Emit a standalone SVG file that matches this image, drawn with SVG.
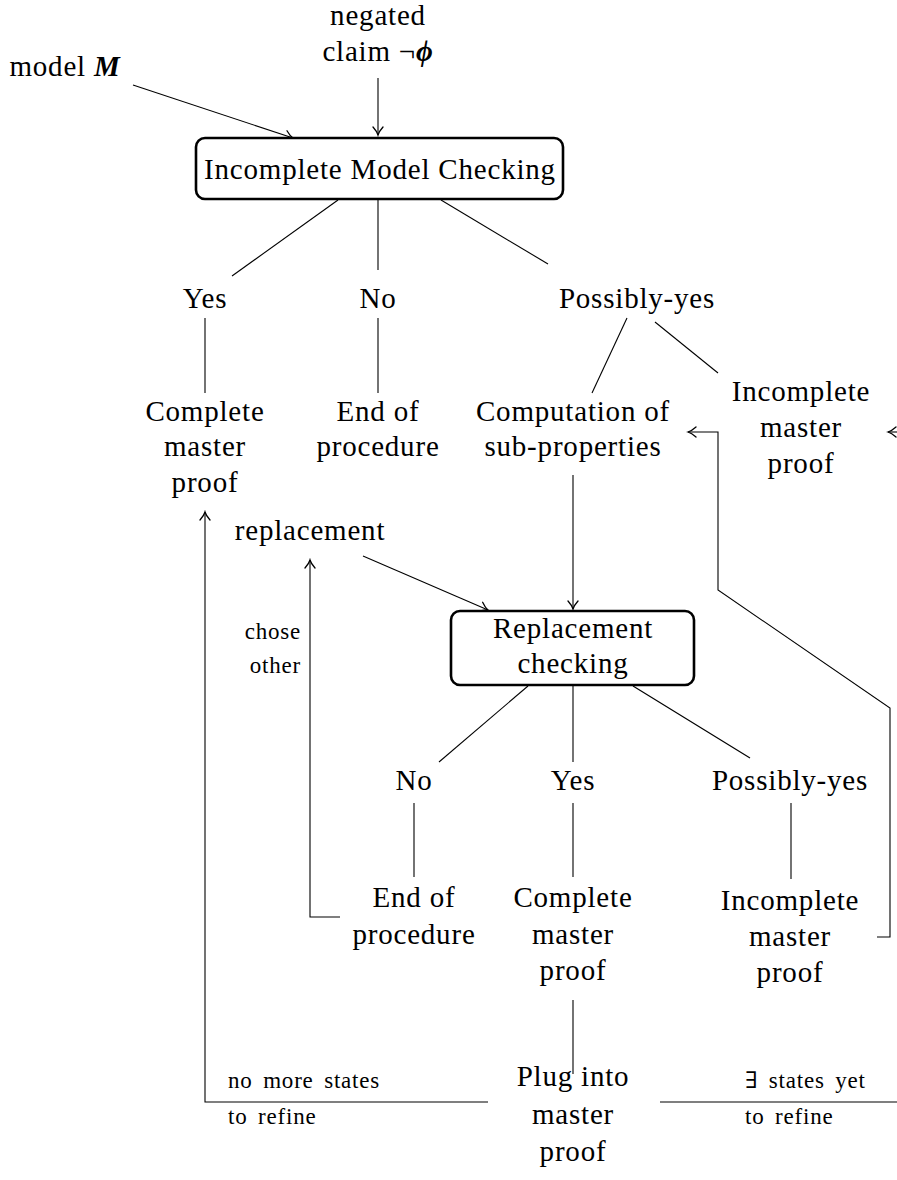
<svg xmlns="http://www.w3.org/2000/svg" width="897" height="1180" viewBox="0 0 897 1180">
  <style>
    text { font-family: "Liberation Serif", "DejaVu Serif", serif; fill: #000; }
    .lbl { font-size: 29px; letter-spacing: 0.8px; text-anchor: middle; }
    .sm { font-size: 23px; letter-spacing: 0.8px; word-spacing: 4px; }
    .box { fill: #fff; stroke: #000; stroke-width: 2.6; }
    .ln { fill: none; stroke: #000; stroke-width: 1.1; }
    .arr { fill: none; stroke: #000; stroke-width: 1.1; marker-end: url(#ah); }
  </style>
  <defs>
    <marker id="ah" viewBox="-10 -6 12 12" refX="0" refY="0" markerWidth="12" markerHeight="12" markerUnits="userSpaceOnUse" orient="auto">
      <path d="M -8 -5 Q -3.5 -1 0 0 Q -3.5 1 -8 5" fill="none" stroke="#000" stroke-width="1.3" stroke-linecap="round"/>
    </marker>
  </defs>

  <!-- connectors -->
  <g id="connectors">
    <line class="arr" x1="378" y1="78" x2="378" y2="135"/>
    <line class="arr" x1="133" y1="85" x2="293" y2="138"/>
    <line class="ln" x1="338" y1="200" x2="232" y2="276"/>
    <line class="ln" x1="378" y1="200" x2="378" y2="270"/>
    <line class="ln" x1="441" y1="200" x2="548" y2="264"/>
    <line class="ln" x1="205" y1="318" x2="205" y2="393"/>
    <line class="ln" x1="378" y1="318" x2="378" y2="393"/>
    <line class="ln" x1="627" y1="318" x2="592" y2="393"/>
    <line class="ln" x1="655" y1="322" x2="718" y2="373"/>
    <line class="arr" x1="900" y1="432" x2="888" y2="432"/>
    <line class="arr" x1="573" y1="475" x2="573" y2="609"/>
    <line class="arr" x1="363" y1="556" x2="488" y2="610"/>
    <polyline class="arr" points="340,917 310,917 310,560"/>
    <polyline class="arr" points="488,1102 205,1102 205,512"/>
    <line class="ln" x1="528" y1="686" x2="439" y2="762"/>
    <line class="ln" x1="573" y1="686" x2="573" y2="762"/>
    <line class="ln" x1="633" y1="686" x2="750" y2="758"/>
    <line class="ln" x1="414" y1="803" x2="414" y2="877"/>
    <line class="ln" x1="573" y1="803" x2="573" y2="877"/>
    <line class="ln" x1="791" y1="803" x2="791" y2="879"/>
    <polyline class="arr" points="877,937 890,937 890,708 718,590 718,432 688,432"/>
    <line class="ln" x1="573" y1="1000" x2="573" y2="1074"/>
    <line class="ln" x1="660" y1="1102" x2="897" y2="1102"/>
  </g>

  <!-- inputs -->
  <g id="claim">
    <text class="lbl" x="378" y="25">negated</text>
    <text class="lbl" x="378" y="61">claim ¬<tspan font-style="italic" font-weight="bold">ϕ</tspan></text>
  </g>
  <g id="model">
    <text class="lbl" x="65" y="76">model <tspan font-style="italic" font-weight="bold">M</tspan></text>
  </g>

  <!-- incomplete model checking -->
  <g id="imc">
    <rect class="box" x="196" y="138" width="367" height="61" rx="9"/>
    <text class="lbl" x="380" y="179">Incomplete Model Checking</text>
  </g>
  <g id="yes1"><text class="lbl" x="205" y="308">Yes</text></g>
  <g id="no1"><text class="lbl" x="378" y="308">No</text></g>
  <g id="py1"><text class="lbl" x="637" y="308">Possibly-yes</text></g>
  <g id="cmp1">
    <text class="lbl" x="205" y="421">Complete</text>
    <text class="lbl" x="205" y="456">master</text>
    <text class="lbl" x="205" y="492">proof</text>
  </g>
  <g id="end1">
    <text class="lbl" x="378" y="421">End of</text>
    <text class="lbl" x="378" y="456">procedure</text>
  </g>
  <g id="comp">
    <text class="lbl" x="573" y="421">Computation of</text>
    <text class="lbl" x="573" y="456">sub-properties</text>
  </g>
  <g id="inc1">
    <text class="lbl" x="801" y="401">Incomplete</text>
    <text class="lbl" x="801" y="437">master</text>
    <text class="lbl" x="801" y="473">proof</text>
  </g>

  <!-- replacement loop -->
  <g id="replacement"><text class="lbl" x="310" y="540">replacement</text></g>
  <g id="chose">
    <text class="sm" x="301" y="639" text-anchor="end">chose</text>
    <text class="sm" x="301" y="673" text-anchor="end">other</text>
  </g>
  <g id="rc">
    <rect class="box" x="451" y="611" width="243" height="74" rx="9"/>
    <text class="lbl" x="573" y="638">Replacement</text>
    <text class="lbl" x="573" y="673">checking</text>
  </g>
  <g id="no2"><text class="lbl" x="414" y="790">No</text></g>
  <g id="yes2"><text class="lbl" x="573" y="790">Yes</text></g>
  <g id="py2"><text class="lbl" x="790" y="790">Possibly-yes</text></g>
  <g id="end2">
    <text class="lbl" x="414" y="907">End of</text>
    <text class="lbl" x="414" y="944">procedure</text>
  </g>
  <g id="cmp2">
    <text class="lbl" x="573" y="907">Complete</text>
    <text class="lbl" x="573" y="944">master</text>
    <text class="lbl" x="573" y="980">proof</text>
  </g>
  <g id="inc2">
    <text class="lbl" x="790" y="910">Incomplete</text>
    <text class="lbl" x="790" y="946">master</text>
    <text class="lbl" x="790" y="982">proof</text>
  </g>

  <!-- plug into master proof -->
  <g id="plug">
    <text class="lbl" x="573" y="1086">Plug into</text>
    <text class="lbl" x="573" y="1124">master</text>
    <text class="lbl" x="573" y="1161">proof</text>
  </g>
  <g id="nomore">
    <text class="sm" x="228" y="1088">no more states</text>
    <text class="sm" x="228" y="1124">to refine</text>
  </g>
  <g id="exists">
    <text class="sm" x="745" y="1088">∃ states yet</text>
    <text class="sm" x="745" y="1124">to refine</text>
  </g>
</svg>
